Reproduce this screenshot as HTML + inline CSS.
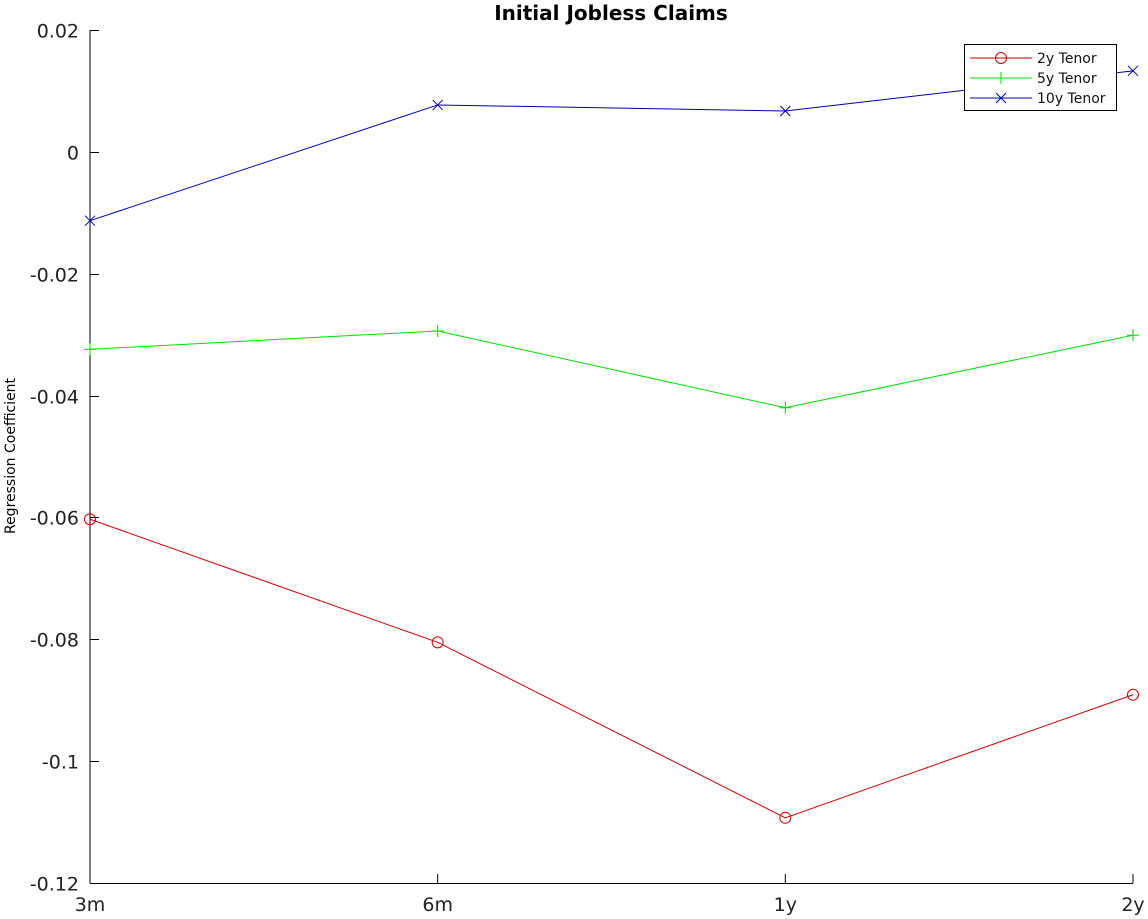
<!DOCTYPE html>
<html><head><meta charset="utf-8"><style>body{margin:0;background:#fff}svg{display:block}</style></head>
<body>
<svg id="chart" width="1148" height="919" xmlns="http://www.w3.org/2000/svg" font-family="'DejaVu Sans','Liberation Sans',sans-serif">
<text x="611" y="20" text-anchor="middle" font-weight="bold" font-size="20">Initial Jobless Claims</text>
<text transform="translate(15,456) rotate(-90)" text-anchor="middle" font-size="14">Regression Coefficient</text>
<g id="axes"></g><g id="series"></g>
<g>
<rect x="964.5" y="44.5" width="152" height="66" fill="#fff" stroke="#000"/>
<g id="legend"></g>
</g>
</svg>
<script>
const categories=["3m","6m","1y","2y"];
const yTicks=[0.02,0,-0.02,-0.04,-0.06,-0.08,-0.1,-0.12];
const yTickLabels=["0.02","0","-0.02","-0.04","-0.06","-0.08","-0.1","-0.12"];
const seriesNames=["2y Tenor","5y Tenor","10y Tenor"];
const s2y=[-0.0603,-0.0805,-0.1093,-0.0891];
const s5y=[-0.0324,-0.0294,-0.0420,-0.0301];
const s10y=[-0.0113,0.0077,0.0067,0.0133];
const colors=["#cc0000","#00dd00","#0000aa"];
const markers=["o","+","x"];
const NS="http://www.w3.org/2000/svg";
const X0=90,X1=1133,Y0=883,Y1=30,ymin=-0.12,ymax=0.02;
const xs=i=>X0+(X1-X0)*i/(categories.length-1);
const ys=v=>Y0-(v-ymin)/(ymax-ymin)*(Y0-Y1);
function mk(tag,a,p){const e=document.createElementNS(NS,tag);for(const k in a)e.setAttribute(k,a[k]);p.appendChild(e);return e;}
const ax=document.getElementById('axes');
let l=mk('line',{x1:X0,y1:Y1,x2:X0,y2:Y0,stroke:'#000'},ax);


l=mk('line',{x1:X0,y1:Y0+0.5,x2:X1,y2:Y0+0.5,stroke:'#000'},ax);


yTicks.forEach((v,i)=>{const y=Math.round(ys(v))+0.5;
mk('line',{x1:X0,y1:y,x2:X0+9,y2:y,stroke:'#000'},ax);
const t=mk('text',{x:X0-11,y:y+7,'text-anchor':'end','font-size':19,fill:'#222'},ax);t.textContent=yTickLabels[i];

});
categories.forEach((c,i)=>{const x=xs(i);
mk('line',{x1:x,y1:Y0,x2:x,y2:Y0-9,stroke:'#000'},ax);
const t=mk('text',{x:x,y:Y0+28,'text-anchor':'middle','font-size':19,fill:'#222'},ax);t.textContent=c;

});
function marker(m,x,y,col,p){
if(m==='o')mk('circle',{cx:x,cy:y,r:5.5,fill:'none',stroke:col},p);
else if(m==='+'){mk('line',{x1:x-6,y1:y,x2:x+6,y2:y,stroke:col},p);mk('line',{x1:x,y1:y-6,x2:x,y2:y+6,stroke:col},p);}
else{mk('line',{x1:x-5,y1:y-5,x2:x+5,y2:y+5,stroke:col},p);mk('line',{x1:x-5,y1:y+5,x2:x+5,y2:y-5,stroke:col},p);}}
const sg=document.getElementById('series');
[s2y,s5y,s10y].forEach((d,k)=>{const g=mk('g',{},sg);


mk('polyline',{points:d.map((v,i)=>xs(i)+','+ys(v)).join(' '),fill:'none',stroke:colors[k]},g);
d.forEach((v,i)=>marker(markers[k],xs(i),ys(v),colors[k],g));});
const lg=document.getElementById('legend');
seriesNames.forEach((n,k)=>{const y=58+20*k;const g=mk('g',{},lg);


mk('line',{x1:970,y1:y,x2:1032,y2:y,stroke:colors[k]},g);
marker(markers[k],1001,y,colors[k],g);
const t=mk('text',{x:1037,y:y+5,'font-size':14,fill:'#111'},g);t.textContent=n;});
</script>
</body></html>
